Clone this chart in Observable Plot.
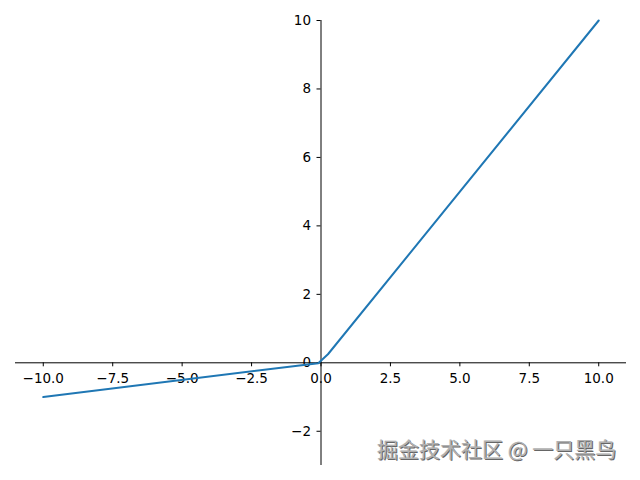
<!DOCTYPE html>
<html>
<head>
<meta charset="utf-8">
<script src="https://cdn.jsdelivr.net/npm/d3@7"></script>
<script src="https://cdn.jsdelivr.net/npm/@observablehq/plot@0.6"></script>
<style>
  html, body { margin: 0; padding: 0; background: #fff; }
  #chart { position: relative; width: 640px; height: 480px; }
  #chart svg { font-family: "DejaVu Sans", sans-serif; }
</style>
</head>
<body>
<div id="chart"></div>
<script>
// Leaky ReLU curve
const xs = [-10, -0.1, 0.25, 10];
const ys = [-1, -0.01, 0.25, 10];
const xTicks = [-10, -7.5, -5, -2.5, 0, 2.5, 5, 7.5, 10];
const yTicks = [-2, 0, 2, 4, 6, 8, 10];
const watermark = "掘金技术社区 @ 一只黑鸟";

const W = 640, H = 480;
const mL = 15, mR = 14, mT = 20, mB = 15;
const xDom = [-11, 11], yDom = [-3, 10];

const pts = xs.map((x, i) => ({x, y: ys[i]}));

// pixel position of the origin for moving axes onto the spines
const y0px = mT + (yDom[1] - 0) / (yDom[1] - yDom[0]) * (H - mT - mB);
const x0px = mL + (0 - xDom[0]) / (xDom[1] - xDom[0]) * (W - mL - mR);

const fmtX = d3.format(".1f");
const fmtY = d3.format("d");

const chart = Plot.plot({
  width: W, height: H,
  marginLeft: mL, marginRight: mR, marginTop: mT, marginBottom: mB,
  style: {fontSize: "13.5px", fontFamily: "DejaVu Sans, sans-serif", color: "#000", background: "#fff"},
  x: {domain: xDom},
  y: {domain: yDom},
  marks: [
    Plot.ruleY([0], {stroke: "#000", strokeWidth: 1}),
    Plot.ruleX([0], {stroke: "#000", strokeWidth: 1}),
    Plot.axisX({ticks: xTicks, tickFormat: fmtX, anchor: "bottom", dy: -(H - mB - y0px), tickSize: 4, tickPadding: 7, label: null, fontSize: 13.5}),
    Plot.axisY({ticks: yTicks, tickFormat: fmtY, anchor: "left", dx: x0px - mL, tickSize: 4, tickPadding: 6, label: null, fontSize: 13.5}),
    Plot.line(pts, {x: "x", y: "y", stroke: "#1f77b4", strokeWidth: 2})
  ]
});
document.getElementById("chart").appendChild(chart);

// watermark as real text overlay
const wm = document.createElement("div");
wm.textContent = watermark;
Object.assign(wm.style, {
  position: "absolute", left: "377px", top: "438px",
  fontFamily: "'Noto Sans CJK SC', sans-serif", fontSize: "21px",
  color: "#b0b0b0", textShadow: "1px 1px 0 #666, -0.5px -0.5px 0 #eee",
  whiteSpace: "nowrap", letterSpacing: "0px", lineHeight: "1"
});
document.getElementById("chart").appendChild(wm);
</script>
</body>
</html>
